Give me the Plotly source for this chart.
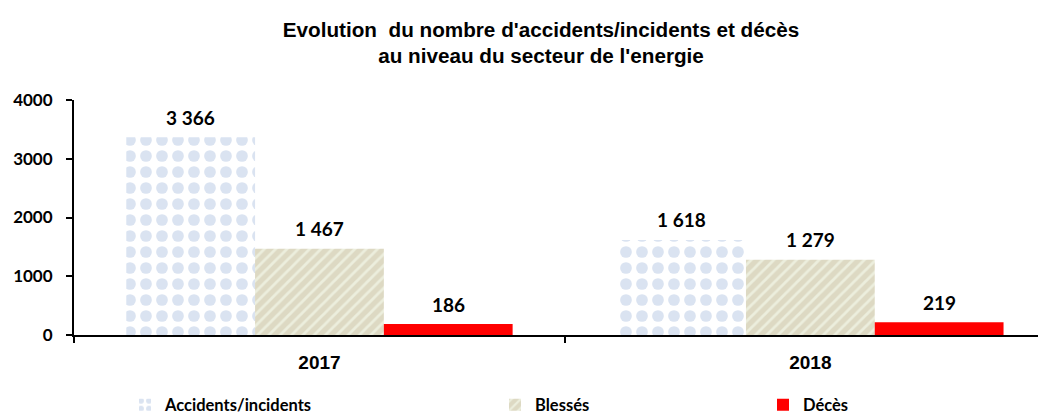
import plotly.graph_objects as go

years = ["2017", "2018"]
series_names = ["Accidents/incidents", "Blessés", "Décès"]
accidents = [3366, 1618]
blesses = [1467, 1279]
deces = [186, 219]
y_ticks = [0, 1000, 2000, 3000, 4000]

values = [accidents, blesses, deces]
bargap = 0.213
bar_w = (1 - bargap) / 3

# the page adds an 8px body margin, so the figure is sized to fit the window
W, H = 1038, 406
ML, MR, MT, MB = 66, 0, 92, 79
PW = W - ML - MR
PH = H - MT - MB


def fmt(v):
    return f"{v:,}".replace(",", " ")


fig = go.Figure()

patterns = [
    dict(shape=".", bgcolor="white", fgcolor="#dae3f1", size=16, solidity=0.42, fgopacity=1),
    dict(shape="/", bgcolor="#ddd9c3", fgcolor="#eceedd", size=8, solidity=0.35, fgopacity=1),
    None,
]
colors = ["white", "#ddd9c3", "#ff0000"]
legend_ids = ["legend", "legend2", "legend3"]

for i, (name, vals) in enumerate(zip(series_names, values)):
    marker = dict(color=colors[i], line=dict(width=0))
    if patterns[i] is not None:
        marker["pattern"] = patterns[i]
    fig.add_trace(go.Bar(
        x=years, y=vals, name=name, marker=marker,
        legend=legend_ids[i], showlegend=True,
    ))

# value labels
for i, vals in enumerate(values):
    for j, v in enumerate(vals):
        fig.add_annotation(
            x=j + (i - 1) * bar_w, y=v, xref="x", yref="y",
            text=f"<b>{fmt(v)}</b>", showarrow=False,
            yanchor="middle", yshift=20,
            font=dict(family="Lato", size=19, color="black"),
        )

legend_font = dict(family="Lato", size=16.5, color="black", weight="bold")
leg_common = dict(orientation="h", yanchor="middle", y=-(397 - (H - MB)) / PH, xanchor="left",
                  font=legend_font, bgcolor="rgba(0,0,0,0)", itemwidth=30)
leg_left = [117, 487, 755]
leg_x = [(v - ML) / PW for v in leg_left]

fig.update_layout(
    width=W, height=H,
    margin=dict(l=ML, r=MR, t=MT, b=MB, autoexpand=False),
    paper_bgcolor="white", plot_bgcolor="white",
    barmode="group", bargap=bargap, bargroupgap=0,
    title=dict(
        text="<b>Evolution  du nombre d'accidents/incidents et décès<br>au niveau du secteur de l'energie</b>",
        x=533 / W, xref="container", xanchor="center",
        y=1 - 28.5 / H, yref="container", yanchor="middle",
        font=dict(family="Liberation Sans", size=20.7, color="black"),
    ),
    legend=dict(**leg_common, x=leg_x[0]),
    legend2=dict(**leg_common, x=leg_x[1]),
    legend3=dict(**leg_common, x=leg_x[2]),
    xaxis=dict(
        type="category", range=[-0.5, 1.48], automargin=False,
        showline=True, linecolor="black", linewidth=2,
        ticks="outside", ticklen=6, tickcolor="black", tickwidth=2,
        tickson="boundaries", ticklabelstandoff=9,
        tickfont=dict(family="Liberation Sans", size=19, color="black", weight="bold"),
        showgrid=False,
    ),
    yaxis=dict(
        range=[0, 4000], tickvals=y_ticks, ticktext=[str(t) for t in y_ticks],
        automargin=False,
        showline=True, linecolor="black", linewidth=2,
        ticks="outside", ticklen=6, tickcolor="black", tickwidth=2,
        ticklabelstandoff=10,
        tickfont=dict(family="Lato", size=17, color="black", weight="bold"),
        showgrid=False, zeroline=False,
    ),
)

fig.write_html("out.html")
